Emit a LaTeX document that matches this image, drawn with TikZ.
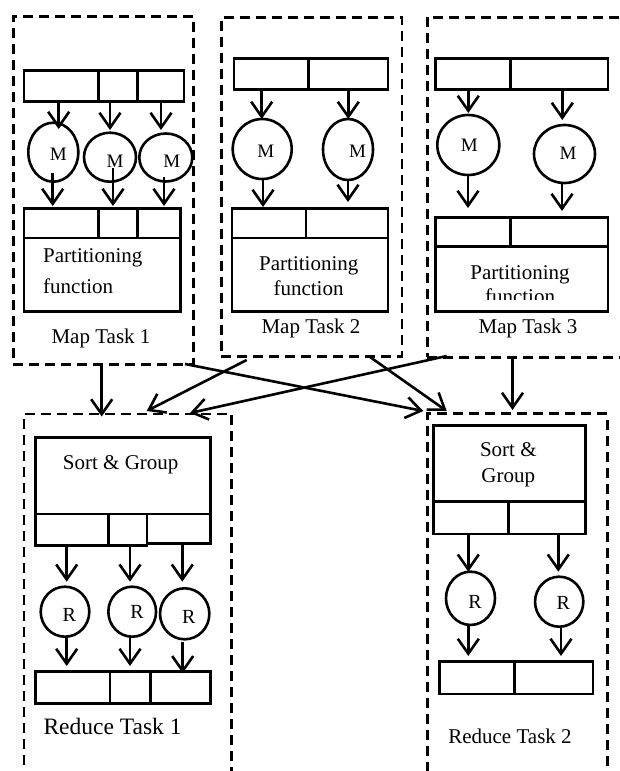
\documentclass[tikz,border=0pt]{standalone}
\usepackage{fontspec}
\setmainfont{Liberation Serif}
\usetikzlibrary{arrows.meta,shapes.geometric}
\newcommand\vdiv[3]{\draw[lw] (#1,#2) -- (#1,#3);}
\newcommand\varrow[4]{\coordinate (#1s) at (#2,#3); \coordinate (#1e) at (#2,#4); \draw[arr] (#1s) -- (#1e);}
\begin{document}
\begin{tikzpicture}[x=1pt,y=-1pt,
  lw/.style={line width=2.6pt},
  taskbox/.style={draw,lw,dash pattern=on 10pt off 6pt,rectangle,inner sep=0pt,anchor=north west},
  cell/.style={draw,lw,rectangle,inner sep=0pt,anchor=north west},
  proc/.style={draw,lw,ellipse,inner sep=0pt},
  arr/.style={lw,-{Straight Barb[length=15pt,width=21pt]}},
  txt/.style={inner sep=0pt,font=\fontsize{21}{25}\selectfont},
  mtxt/.style={inner sep=0pt,font=\fontsize{19}{22}\selectfont},
  rtxt/.style={inner sep=0pt,font=\fontsize{20}{24}\selectfont},
]
\useasboundingbox (0,0) rectangle (619,771);
\fill[white] (0,0) rectangle (619,771);

% ---------- Map Task 1 ----------
\node[taskbox,minimum width=180pt,minimum height=348pt] (map1) at (12,15) {};
\node[cell,minimum width=160pt,minimum height=31pt] (m1in) at (22.7,69) {};
\vdiv{98.7}{69}{100} \vdiv{137.7}{69}{100}
\node[proc,minimum width=50pt,minimum height=59pt] (m1c1) at (53.3,152.2) {};
\node[proc,minimum width=52pt,minimum height=49pt] (m1c2) at (110,157.2) {};
\node[proc,minimum width=53pt,minimum height=48pt] (m1c3) at (165.8,157.5) {};
\node[mtxt] (m1l1) at (58.3,154) {M};
\node[mtxt] (m1l2) at (115,161.5) {M};
\node[mtxt] (m1l3) at (171.7,161.5) {M};
\node[cell,minimum width=156.3pt,minimum height=103pt] (m1out) at (22.7,207) {};
\draw[lw] (22.7,238) -- (179,238);
\vdiv{98.7}{207}{238} \vdiv{137.7}{207}{238}
\node[txt,anchor=base west] (m1p) at (43,262) {Partitioning};
\node[txt,anchor=base west] (m1f) at (43,293.3) {function};
\node[txt] (m1t) at (101,338) {Map Task 1};
\varrow{m1a}{58.7}{100}{129}
\varrow{m1b}{110}{100}{130}
\varrow{m1c}{161}{100}{130}
\varrow{m1d}{52.7}{173}{206}
\varrow{m1e}{113}{168}{206}
\varrow{m1f}{164}{177}{206}

% ---------- Map Task 2 ----------
\node[taskbox,minimum width=180.7pt,minimum height=339pt] (map2) at (220,16) {};
\node[cell,minimum width=154pt,minimum height=31pt] (m2in) at (232.7,57) {};
\vdiv{308.7}{57}{88}
\node[proc,minimum width=59pt,minimum height=60pt] (m2c1) at (262.2,149) {};
\node[proc,minimum width=50pt,minimum height=61pt] (m2c2) at (348,149.5) {};
\node[mtxt] (m2l1) at (265.7,151.7) {M};
\node[mtxt] (m2l2) at (357.5,151.7) {M};
\node[cell,minimum width=156pt,minimum height=103pt] (m2out) at (230.7,207) {};
\draw[lw] (230.7,238) -- (386.7,238);
\vdiv{306}{207}{238}
\node[txt,anchor=base] (m2p) at (308.8,270.7) {Partitioning};
\node[txt,anchor=base] (m2f) at (308.5,295) {function};
\node[txt] (m2t) at (311,328) {Map Task 2};
\varrow{m2a}{261.7}{88}{119}
\varrow{m2b}{348.3}{88}{119}
\varrow{m2c}{263}{179}{207}
\varrow{m2d}{348}{180}{202}

% ---------- Map Task 3 ----------
\node[taskbox,minimum width=214pt,minimum height=340pt] (map3) at (426,16) {};
\node[cell,minimum width=172.7pt,minimum height=31pt] (m3in) at (434,57) {};
\vdiv{510.7}{57}{88}
\node[proc,minimum width=62pt,minimum height=60pt] (m3c1) at (468.3,145) {};
\node[proc,minimum width=61pt,minimum height=58pt] (m3c2) at (564.5,154) {};
\node[mtxt] (m3l1) at (469.2,145) {M};
\node[mtxt] (m3l2) at (568,153.3) {M};
\node[cell,minimum width=172.7pt,minimum height=94pt] (m3out) at (434,216) {};
\draw[lw] (434,246.7) -- (606.7,246.7);
\vdiv{510.7}{216}{246.7}
\node[txt,anchor=base] (m3p) at (520,279.3) {Partitioning};
\begin{scope}
\clip (436,248) rectangle (605,299);
\node[txt,anchor=base] (m3f) at (520,303) {function};
\end{scope}
\node[txt] (m3t) at (528,328) {Map Task 3};
\varrow{m3a}{468.3}{88}{113}
\varrow{m3b}{562.3}{88}{120}
\varrow{m3c}{468}{175}{208}
\varrow{m3d}{562}{183}{211}

% ---------- Reduce Task 1 ----------
\node[taskbox,minimum width=207.3pt,minimum height=380pt] (red1) at (22.7,412.7) {};
\node[cell,minimum width=174.7pt,minimum height=76.7pt] (r1sort) at (34.3,436) {};
\node[txt] (r1st) at (120.7,465) {Sort \& Group};
\node[cell,minimum width=111.4pt,minimum height=31.3pt] (r1pa) at (34.3,512.7) {};
\node[cell,minimum width=63.3pt,minimum height=29.6pt] (r1pb) at (145.7,512.7) {};
\vdiv{108.3}{512.7}{544}
\node[proc,minimum width=48.6pt,minimum height=50pt] (r1c1) at (65,611.7) {};
\node[proc,minimum width=47.7pt,minimum height=50pt] (r1c2) at (132.2,611.7) {};
\node[proc,minimum width=49.3pt,minimum height=51pt] (r1c3) at (184.7,613.8) {};
\node[rtxt] (r1l1) at (69.3,615) {R};
\node[rtxt] (r1l2) at (137,612) {R};
\node[rtxt] (r1l3) at (188.8,617) {R};
\node[cell,minimum width=174.7pt,minimum height=32.3pt] (r1out) at (34.3,670) {};
\vdiv{110}{670}{702.3} \vdiv{150.7}{670}{702.3}
\node[inner sep=0pt,font=\fontsize{23.5}{28}\selectfont,anchor=west] (r1t) at (43.3,726) {Reduce Task 1};
\varrow{r1a}{66.7}{544}{581.7}
\varrow{r1b}{130}{544}{581.7}
\varrow{r1c}{182.3}{542.3}{581.7}
\varrow{r1d}{66.7}{636.7}{666}
\varrow{r1e}{130}{637}{666}
\varrow{r1f}{182.7}{641.7}{673.3}

% ---------- Reduce Task 2 ----------
\node[taskbox,minimum width=180pt,minimum height=380pt] (red2) at (426,412.3) {};
\node[cell,minimum width=151.7pt,minimum height=76pt] (r2sort) at (432.3,424) {};
\node[txt,anchor=base] (r2s1) at (508.3,456) {Sort \&};
\node[txt,anchor=base] (r2s2) at (508.3,482.3) {Group};
\node[cell,minimum width=151.7pt,minimum height=32.7pt] (r2p) at (432.3,500) {};
\vdiv{508.3}{500}{532.7}
\node[proc,minimum width=49pt,minimum height=53.3pt] (r2c1) at (470.5,598.3) {};
\node[proc,minimum width=48.3pt,minimum height=50pt] (r2c2) at (559.2,601.7) {};
\node[rtxt] (r2l1) at (475,601.7) {R};
\node[rtxt] (r2l2) at (563.3,603.3) {R};
\node[cell,minimum width=153.4pt,minimum height=32.7pt] (r2out) at (438.3,660) {};
\vdiv{514.3}{660}{692.7}
\node[txt] (r2t) at (510,736.7) {Reduce Task 2};
\varrow{r2a}{468.3}{532.7}{571.7}
\varrow{r2b}{558.3}{532.7}{571.7}
\varrow{r2c}{468.3}{625}{656}
\varrow{r2d}{561}{626.7}{656}

% ---------- shuffle connectors ----------
\coordinate (s1a) at (101.7,363);   \coordinate (s1b) at (101.7,416.5);
\coordinate (s2a) at (185,364);     \coordinate (s2b) at (423.3,411);
\coordinate (s3a) at (246.7,360);   \coordinate (s3b) at (146.7,411);
\coordinate (s4a) at (370,357);     \coordinate (s4b) at (446.7,411);
\coordinate (s5a) at (446.7,356);   \coordinate (s5b) at (190,413);
\coordinate (s6a) at (512.5,356);   \coordinate (s6b) at (512.5,410);
\draw[arr] (s1a) -- (s1b);
\draw[arr] (s2a) -- (s2b);
\draw[arr] (s3a) -- (s3b);
\draw[arr] (s4a) -- (s4b);
\draw[arr] (s5a) -- (s5b);
\draw[arr] (s6a) -- (s6b);
\end{tikzpicture}
\end{document}
